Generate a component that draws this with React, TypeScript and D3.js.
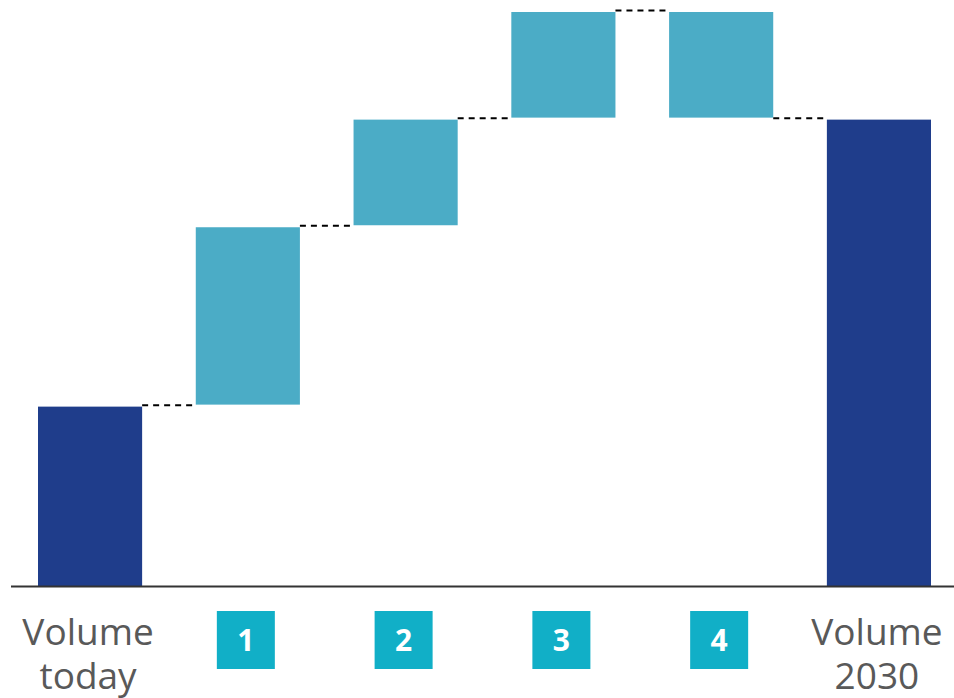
import React from "react";
import * as d3 from "d3";

const categories = ["today", "1", "2", "3", "4", "2030"];
const startValue = 100;
const changes = [100, 60, 60, -60];
const endValue = 260;
const firstLabel = ["Volume", "today"];
const lastLabel = ["Volume", "2030"];
const stepLabels = ["1", "2", "3", "4"];

const W = 954;
const H = 698;

export default function App() {
  const x = d3.scaleBand<string>().domain(categories).range([38, 931]).paddingInner(0.34).paddingOuter(0);
  const y = d3.scaleLinear().domain([0, 320]).range([586, 12]);
  const bw = x.bandwidth();

  const segs: { key: string; from: number; to: number; kind: string }[] = [];
  segs.push({ key: categories[0], from: 0, to: startValue, kind: "total" });
  let cum = startValue;
  changes.forEach((c, i) => {
    segs.push({ key: categories[i + 1], from: cum, to: cum + c, kind: "delta" });
    cum += c;
  });
  segs.push({ key: categories[5], from: 0, to: endValue, kind: "total" });

  const dark = "#1F3D8B";
  const teal = "#4BACC6";
  const box = "#11AFC7";
  const gap = 2;

  return (
    <svg width={W} height={H} style={{ position: "absolute", left: 0, top: 0 }}>
      <rect width={W} height={H} fill="#fff" />
      {segs.map((s, i) => {
        const top = y(Math.max(s.from, s.to));
        const bot = y(Math.min(s.from, s.to));
        const h = s.kind === "delta" ? bot - top - gap : bot - top;
        return (
          <rect key={i} x={x(s.key)!} y={top} width={bw} height={h} fill={s.kind === "delta" ? teal : dark} />
        );
      })}
      {segs.slice(0, -1).map((s, i) => {
        const next = segs[i + 1];
        const yy = y(s.to) - 1.5;
        return (
          <line
            key={"c" + i}
            x1={x(s.key)! + bw}
            x2={x(next.key)!}
            y1={yy}
            y2={yy}
            stroke="#000"
            strokeWidth={2}
            strokeDasharray="6,5"
          />
        );
      })}
      <line x1={11} x2={W} y1={586.5} y2={586.5} stroke="#333" strokeWidth={2} />
      {[firstLabel, lastLabel].map((lab, i) => {
        const cx = x(i === 0 ? categories[0] : categories[5])! + bw / 2 - 2;
        return (
          <text key={"l" + i} textAnchor="middle" fontFamily="'Open Sans', sans-serif" fontSize={37} fill="#595959">
            <tspan x={cx} y={645}>{lab[0]}</tspan>
            <tspan x={cx} y={689}>{lab[1]}</tspan>
          </text>
        );
      })}
      {stepLabels.map((t, i) => {
        const cx = x(categories[i + 1])! + bw / 2 - 2;
        return (
          <g key={"b" + i}>
            <rect x={cx - 29} y={611} width={58} height={58} fill={box} />
            <text x={cx} y={651} textAnchor="middle" fontFamily="'Open Sans', sans-serif" fontWeight="bold" fontSize={30} fill="#fff">
              {t}
            </text>
          </g>
        );
      })}
    </svg>
  );
}
